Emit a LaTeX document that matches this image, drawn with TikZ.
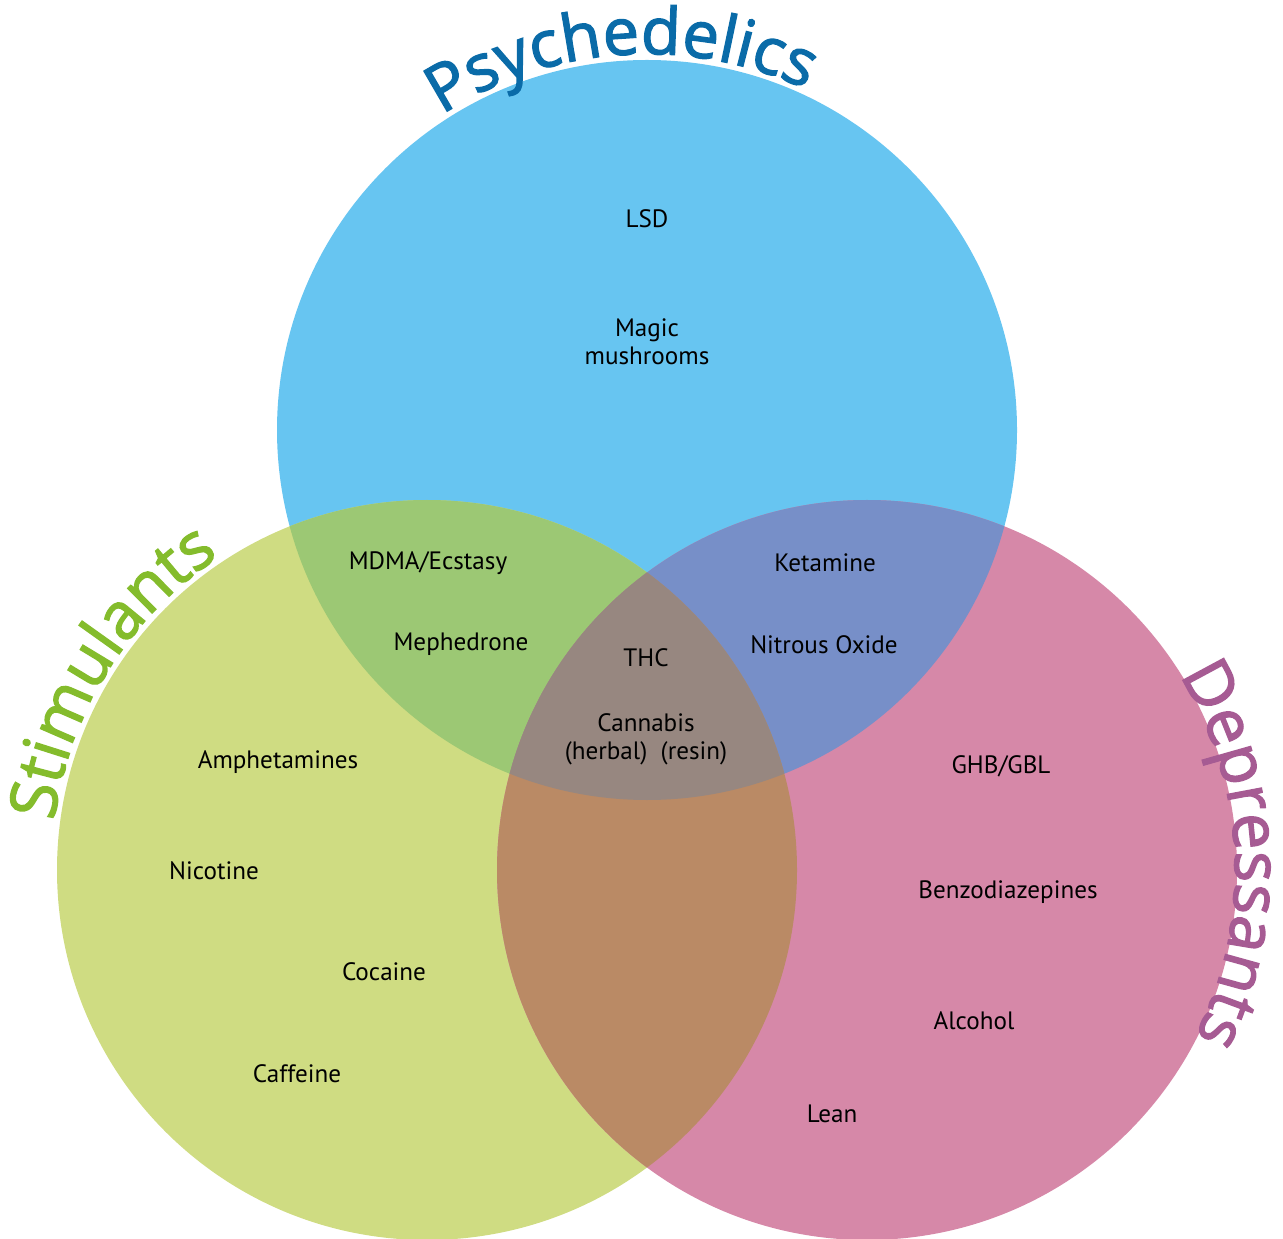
\documentclass[tikz,border=0pt]{standalone}
\usepackage{fontspec}
\setmainfont{PT Sans}
\newfontfamily\titlefont[FakeBold=2]{Open Sans}
\usetikzlibrary{decorations.text}

\definecolor{psyfill}{HTML}{67C5F1}
\definecolor{stimfill}{HTML}{CFDC82}
\definecolor{depfill}{HTML}{D688A8}
\definecolor{psystim}{HTML}{9CC874}
\definecolor{psydep}{HTML}{778FC8}
\definecolor{stimdep}{HTML}{BA8A65}
\definecolor{allthree}{HTML}{978780}
\definecolor{psytitle}{HTML}{0A6BA8}
\definecolor{stimtitle}{HTML}{84BC2C}
\definecolor{deptitle}{HTML}{A65B93}

\begin{document}
\begin{tikzpicture}[x=0.02cm, y=0.02cm,
  drug/.style={font=\fontsize{14.3}{16}\selectfont, align=center, inner sep=1pt},
]
\useasboundingbox (0,0) rectangle (1283,1238);

% circle centres
\coordinate (cpsy) at (647,808);
\coordinate (cstim) at (427,368);
\coordinate (cdep) at (867,368);

% the three sets
\fill[psyfill] (cpsy) circle[radius=370];
\fill[stimfill] (cstim) circle[radius=370];
\fill[depfill] (cdep) circle[radius=370];

% pairwise overlaps
\begin{scope}
  \clip (cpsy) circle[radius=370];
  \fill[psystim] (cstim) circle[radius=370];
  \fill[psydep] (cdep) circle[radius=370];
\end{scope}
\begin{scope}
  \clip (cstim) circle[radius=370];
  \fill[stimdep] (cdep) circle[radius=370];
\end{scope}
% centre
\begin{scope}
  \clip (cpsy) circle[radius=370];
  \clip (cstim) circle[radius=370];
  \fill[allthree] (cdep) circle[radius=370];
\end{scope}

% curved titles
\path[decorate, decoration={text along path, text align=center,
  text={|\titlefont\fontsize{37}{39}\selectfont\color{psytitle}|Psychedelics}}]
  (cpsy) ++(150:376) arc[start angle=150, end angle=38, radius=376];
\path[decorate, decoration={text along path, text align=center,
  text={|\titlefont\fontsize{37}{39}\selectfont\color{stimtitle}|Stimulants}}]
  (cstim) ++(195:376) arc[start angle=195, end angle=101, radius=376];
\path[decorate, decoration={text along path, text align=center,
  text={|\titlefont\fontsize{37}{39}\selectfont\color{deptitle}|Depressants}}]
  (cdep) ++(52:368) arc[start angle=52, end angle=-47, radius=368];

% Psychedelics only
\node[drug] (lsd) at (647,1019) {LSD};
\node[drug] (mushrooms) at (647,896) {Magic\\mushrooms};

% Psychedelics and Stimulants
\node[drug] (mdma) at (428,675) {MDMA/Ecstasy};
\node[drug] (mephedrone) at (461,594) {Mephedrone};

% Psychedelics and Depressants
\node[drug] (ketamine) at (825,675) {Ketamine};
\node[drug] (nitrous) at (824,593) {Nitrous Oxide};

% all three
\node[drug] (thc) at (646,580) {THC};
\node[drug] (cannabis) at (646,499) {Cannabis\\(herbal)~~(resin)};

% Stimulants only
\node[drug] (amphetamines) at (278,476) {Amphetamines};
\node[drug] (nicotine) at (214,367) {Nicotine};
\node[drug] (cocaine) at (384,266) {Cocaine};
\node[drug] (caffeine) at (297,164) {Caffeine};

% Depressants only
\node[drug] (ghb) at (1001,472) {GHB/GBL};
\node[drug] (benzos) at (1008,346) {Benzodiazepines};
\node[drug] (alcohol) at (974,217) {Alcohol};
\node[drug] (lean) at (832,124) {Lean};
\end{tikzpicture}
\end{document}
